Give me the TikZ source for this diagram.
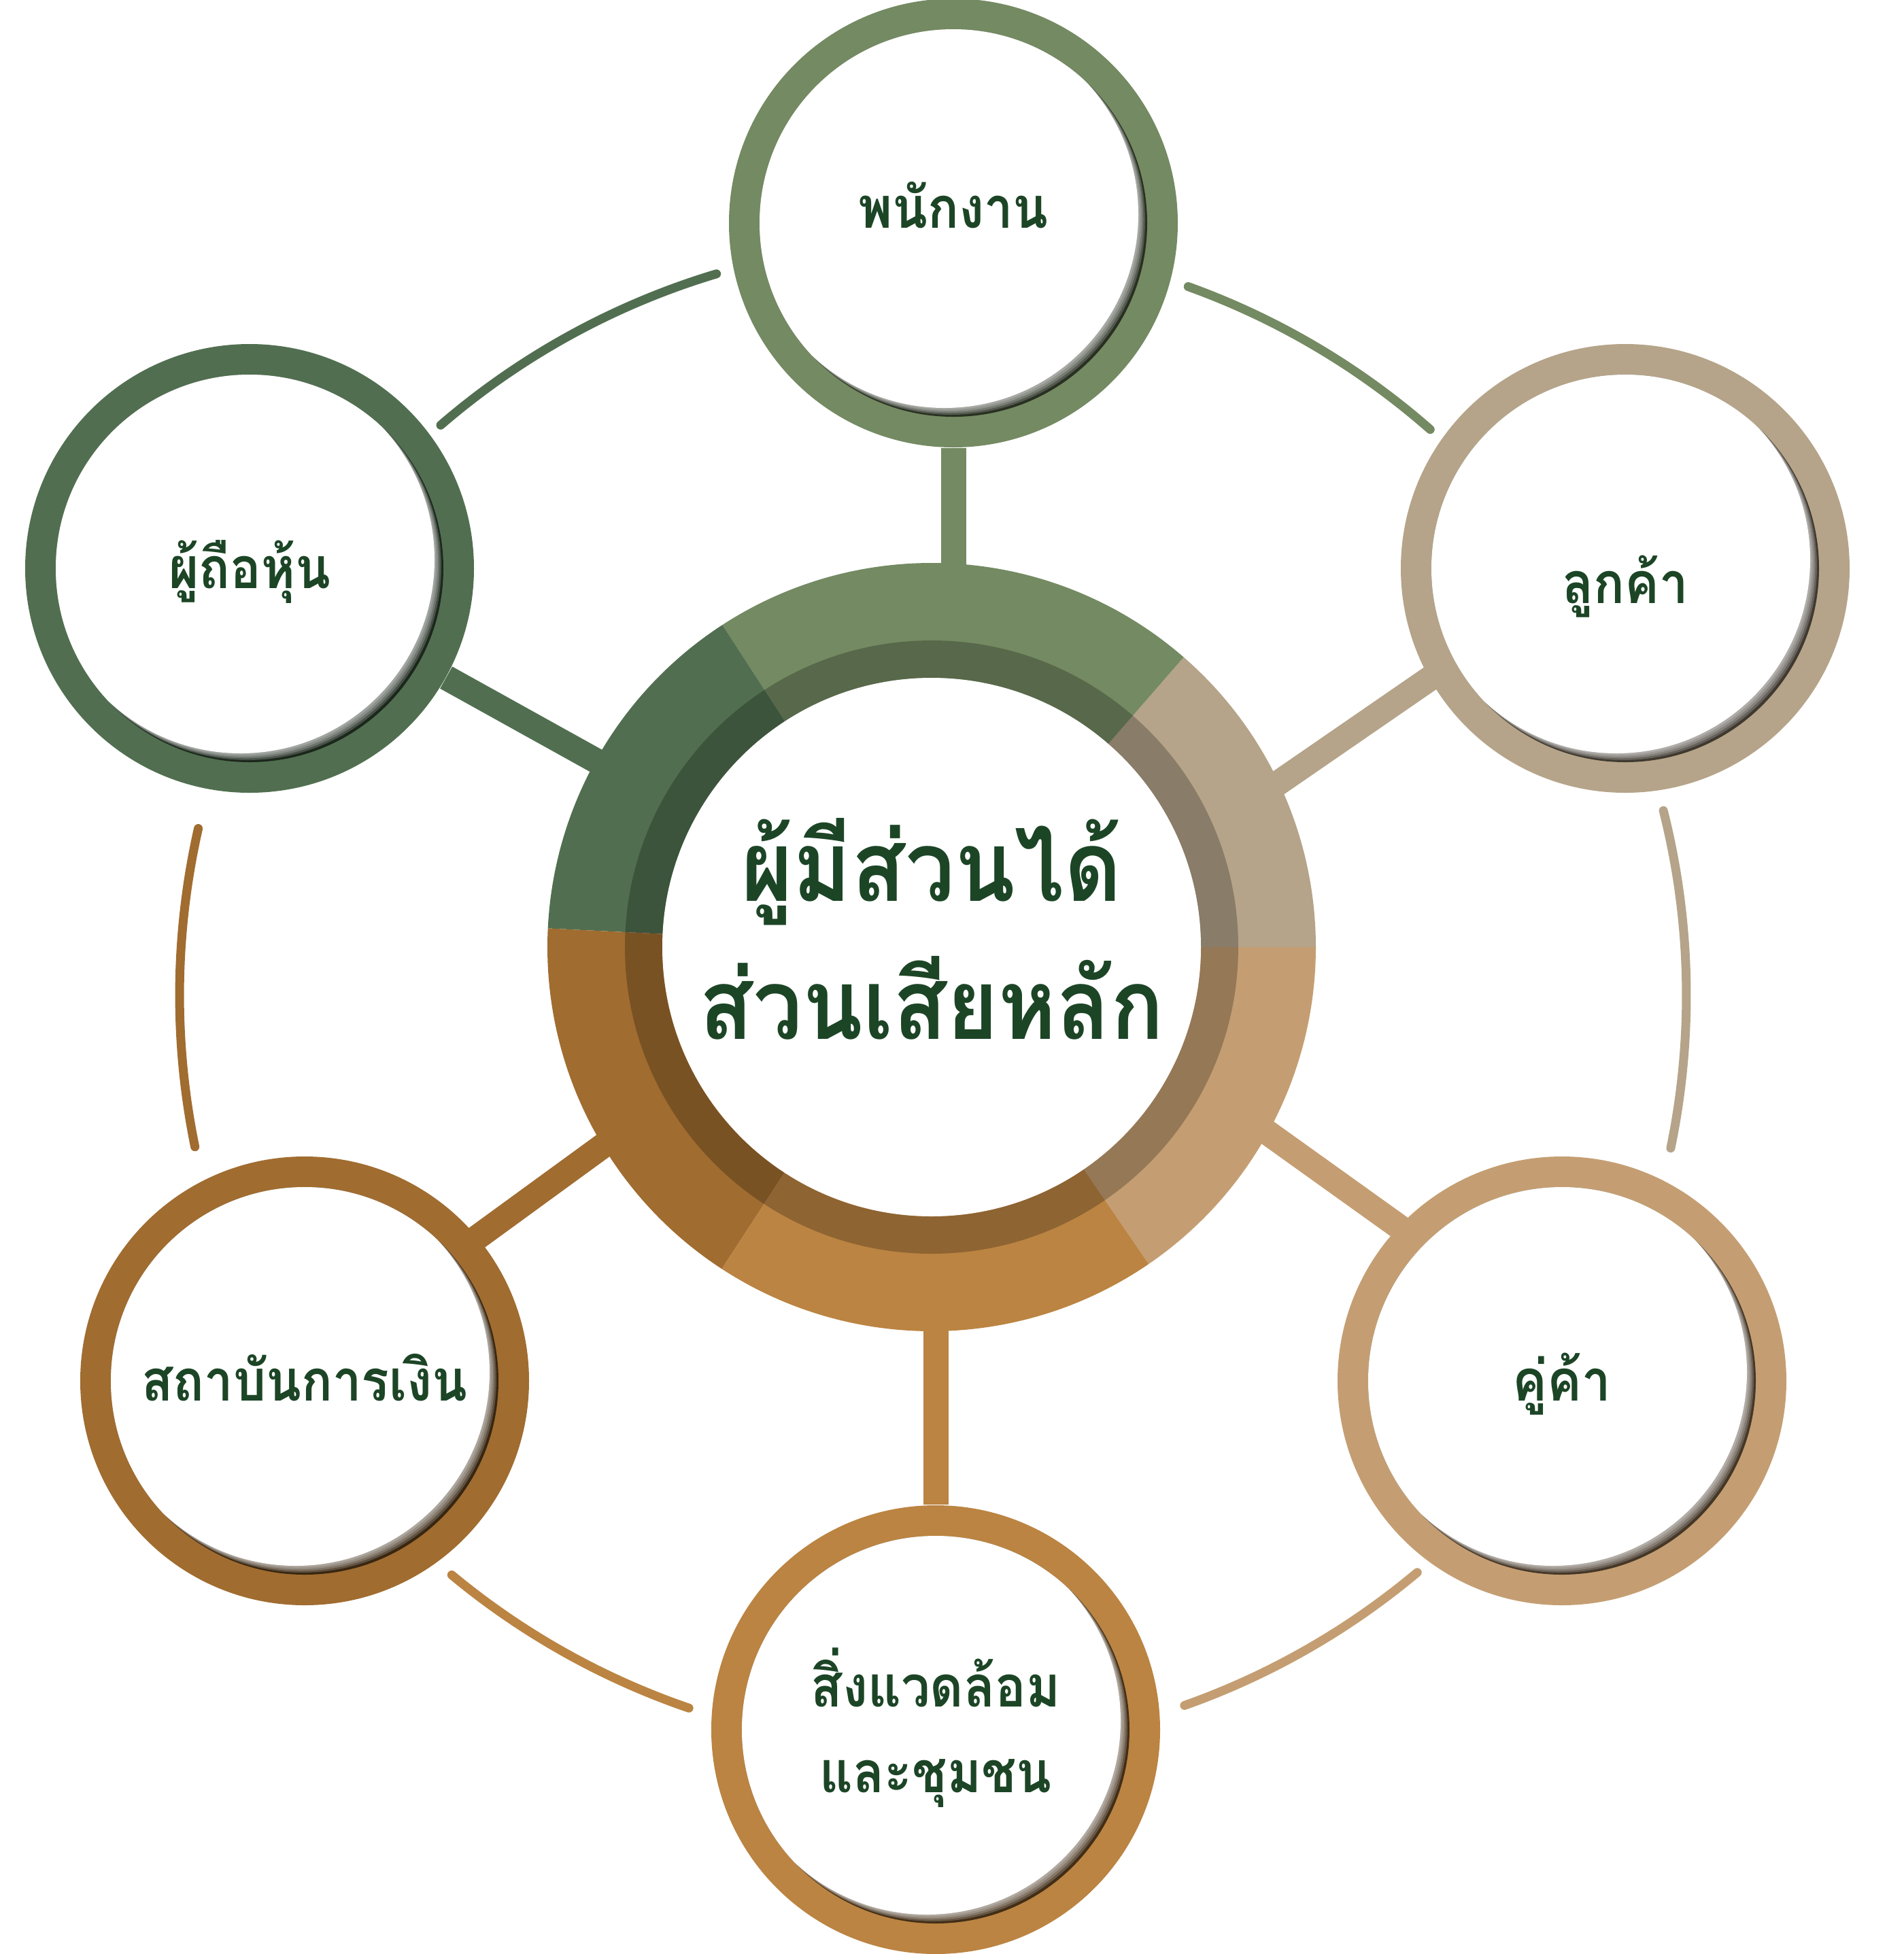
\documentclass[tikz,border=0pt]{standalone}
\usepackage{fontspec}
\newfontfamily\thaifont[Script=Thai, FakeStretch=0.9]{Loma}
\usetikzlibrary{calc}
\definecolor{sgreen}{HTML}{748A62}
\definecolor{sdkgreen}{HTML}{516F50}
\definecolor{stan}{HTML}{B5A489}
\definecolor{ssand}{HTML}{C49E72}
\definecolor{sochre}{HTML}{BB8442}
\definecolor{sbrown}{HTML}{A06C30}
\definecolor{inkgreen}{HTML}{1C4526}
\pgfdeclarelayer{back}
\pgfsetlayers{back,main}
\tikzset{
  stake/.style={circle, minimum size=6.6cm, inner sep=0pt, fill=#1,
    path picture={
      \fill[#1!35!black] (path picture bounding box.center) circle (2.85);
      \begin{scope}
        \clip (path picture bounding box.center) circle (2.85);
        \fill[white] ([shift={(-0.13,0.13)}]path picture bounding box.center) circle (2.85);
        \foreach \d in {0.105,0.08,0.055,0.03}
          \fill[white, opacity=0.2] ([shift={(-\d,\d)}]path picture bounding box.center) circle (2.85);
      \end{scope}}},
  hubdisc/.style={circle, minimum size=7.92cm, inner sep=0pt, fill=white},
  lbl/.style={anchor=base, inner sep=0pt, text=inkgreen, font=\thaifont\bfseries\fontsize{24}{28}\selectfont},
  hublbl/.style={lbl, font=\thaifont\bfseries\fontsize{41}{48}\selectfont},
  link/.style={draw=#1, line width=0.37cm},
  tie/.style={draw=#1, line width=0.13cm, line cap=round}
}
\begin{document}
\begin{tikzpicture}
    \useasboundingbox (0,0) rectangle (28,-28.74);
    \coordinate (orbit) at (13.72,-14.64);
    \node[hubdisc] (hub) at (13.70,-13.93) {};
    \node[stake=sgreen] (staff) at (14.02,-3.28) {};
    \node[stake=sdkgreen] (holders) at (3.67,-8.36) {};
    \node[stake=stan] (customers) at (23.90,-8.36) {};
    \node[stake=ssand] (partners) at (22.97,-20.31) {};
    \node[stake=sochre] (community) at (13.76,-25.44) {};
    \node[stake=sbrown] (finance) at (4.48,-20.31) {};
    \node[hublbl] (hubA) at ([yshift=0.68cm]hub.center) {ผู้มีส่วนได้};
    \node[hublbl] (hubB) at ([yshift=-1.35cm]hub.center) {ส่วนเสียหลัก};
    \node[lbl] (staffL) at ([yshift=-0.07cm]staff.center) {พนักงาน};
    \node[lbl] (holdersL) at ([yshift=-0.29cm]holders.center) {ผู้ถือหุ้น};
    \node[lbl] (customersL) at ([yshift=-0.51cm]customers.center) {ลูกค้า};
    \node[lbl] (partnersL) at ([yshift=-0.29cm]partners.center) {คู่ค้า};
    \node[lbl] (financeL) at ([yshift=-0.29cm]finance.center) {สถาบันการเงิน};
    \node[lbl] (communityA) at ([yshift=0.34cm]community.center) {สิ่งแวดล้อม};
    \node[lbl] (communityB) at ([yshift=-0.92cm]community.center) {และชุมชน};
    \begin{pgfonlayer}{back}
        \fill[white] (0,0) rectangle (28,-28.74);
        % spokes
        \draw[link=sgreen] (staff) -- (staff |- hub);
        \draw[link=sdkgreen] (holders) -- (hub);
        \draw[link=stan] ([yshift=0.36cm]customers.center) -- ([yshift=-1.10cm]hub.center);
        \draw[link=ssand] ([yshift=0.81cm]hub.center) -- ([yshift=0.55cm]partners.center);
        \draw[link=sbrown] ([yshift=0.26cm]finance.center) -- ([yshift=0.60cm]hub.center);
        \draw[link=sochre] (community) -- (community |- hub);
        % outer ring of arcs
        \foreach \a/\b/\c in {130.8/106.7/sdkgreen, 70.2/48.7/sgreen, 14.2/-11.7/stan,
                              -50/-70.5/ssand, -108.9/-129.7/sochre, 191.6/167.2/sbrown}
            \draw[tie=\c] ([shift={(\a:11.08)}]orbit) arc[start angle=\a, end angle=\b, radius=11.08];
        % hub ring
        \foreach \a/\b/\c in {-55.6/0/ssand, 0/49/stan, 49/123/sgreen, 123/177.2/sdkgreen,
                              177.2/236.9/sbrown, 236.9/304.4/sochre}
            \fill[\c] (hub.center) -- ([shift={(\a:5.65)}]hub.center) arc[start angle=\a, end angle=\b, radius=5.65] -- cycle;
        \fill[black, opacity=0.24, even odd rule] (hub.center) circle (4.51) circle (3.96);
    \end{pgfonlayer}
\end{tikzpicture}
\end{document}
